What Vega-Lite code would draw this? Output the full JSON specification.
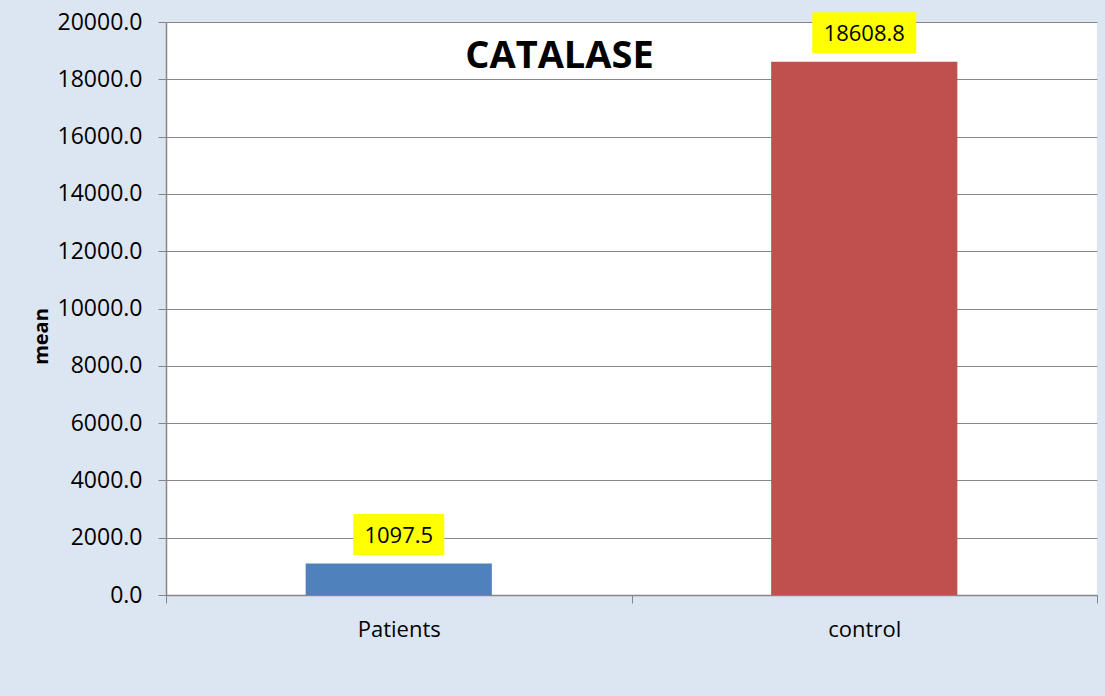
{
  "$schema": "https://vega.github.io/schema/vega-lite/v6.json",
  "width": 931,
  "height": 573,
  "autosize": {"type": "none"},
  "padding": {"left": 166, "top": 22, "right": 8, "bottom": 101},
  "background": "#dce6f2",
  "view": {"fill": "white", "stroke": null},
  "config": {"font": "Open Sans"},
  "title": {
    "text": "CATALASE",
    "font": "Open Sans",
    "fontSize": 38,
    "fontWeight": "bold",
    "color": "black",
    "anchor": "middle",
    "frame": "group",
    "dx": -72,
    "baseline": "alphabetic",
    "offset": 0,
    "dy": 95
  },
  "data": {
    "values": [
      {"group": "Patients", "mean": 1097.5},
      {"group": "control", "mean": 18608.8}
    ]
  },
  "encoding": {
    "x": {
      "field": "group",
      "type": "nominal",
      "sort": null,
      "scale": {"paddingInner": 0, "paddingOuter": 0},
      "axis": {
        "title": null,
        "labelAngle": 0,
        "labelFontSize": 22,
        "labelColor": "black",
        "labelPadding": 16,
        "tickBand": "extent",
        "tickSize": 8,
        "tickColor": "#868686",
        "domainColor": "#868686",
        "domainWidth": 1.5,
        "grid": false
      }
    },
    "y": {
      "field": "mean",
      "type": "quantitative",
      "scale": {"domain": [0, 20000], "nice": false},
      "axis": {
        "values": [0, 2000, 4000, 6000, 8000, 10000, 12000, 14000, 16000, 18000, 20000],
        "format": ".1f",
        "labelFontSize": 23,
        "labelColor": "black",
        "labelPadding": 16,
        "tickSize": 8,
        "tickColor": "#868686",
        "domainColor": "#868686",
        "domainWidth": 1.5,
        "grid": true,
        "gridColor": "#868686",
        "gridWidth": 1.2,
        "title": "mean",
        "titleFontSize": 20,
        "titleFontWeight": "bold",
        "titleColor": "black",
        "titleX": -125,
        "titleY": 314,
        "titleBaseline": "middle"
      }
    }
  },
  "layer": [
    {
      "mark": {"type": "bar", "width": {"band": 0.4}},
      "encoding": {
        "color": {
          "field": "group",
          "type": "nominal",
          "scale": {"domain": ["Patients", "control"], "range": ["#4f81bd", "#c0504d"]},
          "legend": null
        }
      }
    },
    {
      "mark": {"type": "point", "filled": true, "fill": "#ffff00", "opacity": 1, "strokeWidth": 0, "size": 10816, "yOffset": -29},
      "encoding": {
        "shape": {
          "field": "group",
          "type": "nominal",
          "scale": {
            "domain": ["Patients", "control"],
            "range": ["M-0.875,-0.394L0.875,-0.394L0.875,0.394L-0.875,0.394Z", "M-1,-0.394L1,-0.394L1,0.394L-1,0.394Z"]
          },
          "legend": null
        }
      }
    },
    {
      "mark": {"type": "text", "fontSize": 22, "color": "black", "baseline": "middle", "yOffset": -28},
      "encoding": {
        "text": {"field": "mean", "type": "quantitative", "format": ".1f"}
      }
    }
  ]
}
